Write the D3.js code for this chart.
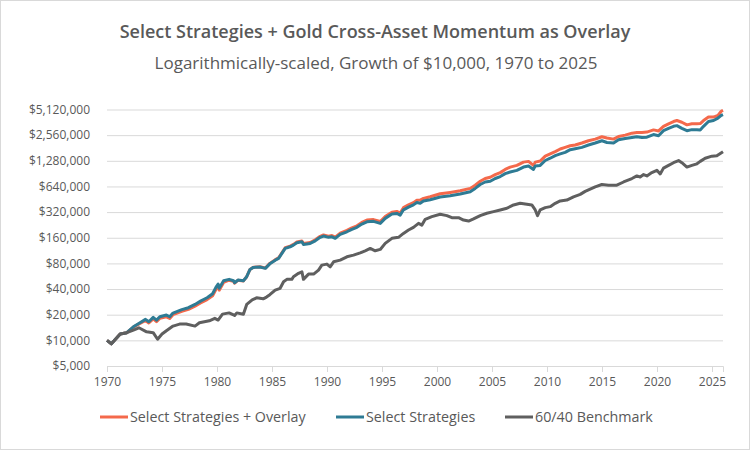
<!DOCTYPE html>
<html>
<head>
<meta charset="utf-8">
<script src="https://cdn.jsdelivr.net/npm/d3@7"></script>
<style>
  body { margin: 0; background: #fff; }
  text { font-family: "Open Sans", sans-serif; fill: #595959; }
</style>
</head>
<body>
<div id="chart"></div>
<script>
// values, growth of $10,000
var overlayYears = [1970.0, 1970.4, 1971.2, 1971.8, 1972.4, 1973.0, 1973.5, 1973.8, 1974.2, 1974.5, 1974.8, 1975.4, 1975.7, 1976.0, 1976.8, 1977.4, 1978.0, 1978.5, 1979.1, 1979.6, 1979.9, 1980.1, 1980.2, 1980.6, 1981.1, 1981.5, 1981.6, 1981.9, 1982.4, 1982.7, 1983.0, 1983.3, 1983.9, 1984.4, 1984.8, 1985.3, 1985.6, 1985.9, 1986.2, 1986.65, 1986.95, 1987.26, 1987.72, 1987.86, 1988.47, 1988.93, 1989.38, 1989.68, 1990.14, 1990.45, 1990.75, 1991.2, 1991.81, 1992.26, 1992.72, 1993.17, 1993.63, 1994.23, 1994.84, 1995.29, 1995.9, 1996.35, 1996.65, 1996.95, 1997.41, 1997.86, 1998.17, 1998.47, 1998.77, 1999.38, 2000.29, 2001.2, 2002.11, 2003.02, 2003.47, 2003.93, 2004.38, 2004.84, 2005.29, 2005.75, 2006.2, 2006.65, 2007.26, 2007.86, 2008.32, 2008.77, 2008.93, 2009.38, 2009.84, 2010.29, 2010.75, 2011.2, 2011.65, 2012.11, 2012.56, 2013.17, 2013.77, 2014.38, 2014.99, 2015.45, 2016.05, 2016.5, 2017.11, 2017.72, 2018.17, 2018.63, 2019.08, 2019.68, 2020.14, 2020.59, 2021.05, 2021.5, 2021.81, 2022.26, 2022.72, 2023.17, 2023.63, 2023.93, 2024.23, 2024.68, 2025.14, 2025.54, 2025.84, 2026.0];
var overlayValues = [10000, 9100, 11850, 12300, 14300, 15800, 17100, 16000, 17900, 16600, 18100, 18900, 18100, 20000, 21900, 23100, 25200, 27500, 30100, 33300, 39500, 43000, 38800, 47800, 50800, 49200, 46900, 50600, 49800, 55800, 68000, 72000, 73000, 70600, 80000, 88500, 92800, 106500, 122000, 127600, 133600, 142500, 146500, 136700, 140800, 151300, 166500, 172700, 167000, 169600, 163000, 181500, 195300, 209200, 221000, 241800, 257800, 261300, 248000, 284000, 319500, 326000, 312000, 360500, 388500, 413500, 441000, 443000, 463000, 484000, 525000, 545000, 569000, 607000, 662000, 736000, 793000, 821000, 882000, 930000, 1015000, 1080000, 1130000, 1235000, 1260000, 1130000, 1235000, 1270000, 1450000, 1540000, 1640000, 1760000, 1840000, 1920000, 1960000, 2070000, 2200000, 2300000, 2450000, 2370000, 2300000, 2470000, 2560000, 2700000, 2750000, 2750000, 2780000, 2950000, 2870000, 3250000, 3480000, 3700000, 3800000, 3630000, 3380000, 3480000, 3480000, 3500000, 3800000, 4170000, 4170000, 4370000, 4880000, 5010000];

var strategyYears = [1970.0, 1970.4, 1971.2, 1971.8, 1972.4, 1973.0, 1973.5, 1973.8, 1974.2, 1974.5, 1974.8, 1975.4, 1975.7, 1976.0, 1976.8, 1977.4, 1978.0, 1978.5, 1979.1, 1979.6, 1979.9, 1980.1, 1980.2, 1980.6, 1981.1, 1981.5, 1981.6, 1981.9, 1982.4, 1982.7, 1983.0, 1983.3, 1983.9, 1984.4, 1984.8, 1985.3, 1985.6, 1985.9, 1986.2, 1986.65, 1986.95, 1987.26, 1987.72, 1987.86, 1988.47, 1988.93, 1989.38, 1989.68, 1990.14, 1990.45, 1990.75, 1991.2, 1991.81, 1992.26, 1992.72, 1993.17, 1993.63, 1994.23, 1994.84, 1995.29, 1995.9, 1996.35, 1996.65, 1996.95, 1997.41, 1997.86, 1998.17, 1998.47, 1998.77, 1999.38, 2000.29, 2001.2, 2002.11, 2003.02, 2003.47, 2003.93, 2004.38, 2004.84, 2005.29, 2005.75, 2006.2, 2006.65, 2007.26, 2007.86, 2008.32, 2008.77, 2008.93, 2009.38, 2009.84, 2010.29, 2010.75, 2011.2, 2011.65, 2012.11, 2012.56, 2013.17, 2013.77, 2014.38, 2014.99, 2015.45, 2016.05, 2016.5, 2017.11, 2017.72, 2018.17, 2018.63, 2019.08, 2019.68, 2020.14, 2020.59, 2021.05, 2021.5, 2021.81, 2022.26, 2022.72, 2023.17, 2023.63, 2023.93, 2024.23, 2024.68, 2025.14, 2025.54, 2025.84, 2026.0];
var strategyValues = [10000, 9100, 11850, 12300, 14440, 16090, 17630, 16530, 18610, 17300, 18920, 19800, 18920, 20900, 22900, 24170, 26400, 28880, 31600, 35200, 41900, 45800, 40800, 50000, 52000, 50000, 47400, 51000, 50000, 55800, 68000, 71800, 72500, 70000, 79000, 87300, 91500, 104800, 119900, 125300, 131100, 139600, 143300, 133600, 137300, 147300, 161800, 167500, 161800, 164000, 157400, 175000, 188000, 201000, 212000, 231600, 246400, 249200, 236000, 270000, 303300, 309000, 295000, 340500, 366000, 389000, 414000, 406000, 433000, 447000, 481000, 499000, 522000, 555000, 607000, 675000, 722000, 736000, 793000, 836000, 905000, 945000, 989000, 1080000, 1110000, 1015000, 1110000, 1130000, 1290000, 1372000, 1470000, 1540000, 1610000, 1730000, 1775000, 1840000, 1960000, 2070000, 2200000, 2100000, 2070000, 2260000, 2340000, 2400000, 2450000, 2400000, 2420000, 2600000, 2520000, 2890000, 3080000, 3250000, 3310000, 3080000, 2890000, 2970000, 2970000, 2950000, 3250000, 3700000, 3800000, 4050000, 4370000, 4460000];

var benchmarkYears = [1970.0, 1970.4, 1971.2, 1971.8, 1972.4, 1972.9, 1973.6, 1974.2, 1974.6, 1975.0, 1975.4, 1976.0, 1976.6, 1977.2, 1978.0, 1978.4, 1979.3, 1979.8, 1980.1, 1980.5, 1981.1, 1981.6, 1981.8, 1982.4, 1982.7, 1983.2, 1983.6, 1984.2, 1984.5, 1984.8, 1985.29, 1985.74, 1986.05, 1986.35, 1986.8, 1986.95, 1987.41, 1987.72, 1987.86, 1988.32, 1988.78, 1989.23, 1989.53, 1989.99, 1990.29, 1990.6, 1991.2, 1991.81, 1992.41, 1993.02, 1993.47, 1993.93, 1994.38, 1994.84, 1995.29, 1995.9, 1996.5, 1996.95, 1997.41, 1997.86, 1998.32, 1998.62, 1998.93, 1999.53, 2000.29, 2000.9, 2001.35, 2001.96, 2002.41, 2002.87, 2003.32, 2003.93, 2004.53, 2005.14, 2005.75, 2006.35, 2006.96, 2007.56, 2008.17, 2008.62, 2008.93, 2009.14, 2009.38, 2009.84, 2010.29, 2010.75, 2011.2, 2011.8, 2012.41, 2013.02, 2013.47, 2014.38, 2014.99, 2015.59, 2016.35, 2016.96, 2017.72, 2018.17, 2018.47, 2018.78, 2019.08, 2019.53, 2019.99, 2020.29, 2020.59, 2021.05, 2021.5, 2021.96, 2022.26, 2022.72, 2023.17, 2023.63, 2023.93, 2024.38, 2024.99, 2025.44, 2026.0];
var benchmarkValues = [10000, 9100, 11850, 12300, 13200, 14050, 12600, 12300, 10300, 11850, 12960, 14700, 15530, 15530, 14700, 16090, 16980, 18110, 17300, 20300, 21000, 19600, 21000, 20200, 26400, 29900, 31600, 30700, 32200, 34300, 38900, 40800, 48700, 52000, 52000, 55800, 61100, 63800, 52000, 59900, 59900, 66800, 76400, 78500, 73000, 83500, 87300, 95600, 100000, 106500, 112400, 119900, 112400, 116700, 137300, 157400, 161800, 180000, 197000, 212000, 236000, 225000, 263000, 283000, 302000, 291000, 275000, 275000, 258000, 251000, 266000, 291000, 310000, 324000, 339000, 355000, 388000, 406000, 395000, 388000, 339000, 291000, 339000, 361000, 371000, 406000, 433000, 443000, 484000, 517000, 560000, 633000, 675000, 662000, 662000, 722000, 793000, 851000, 827000, 882000, 851000, 930000, 989000, 896000, 1050000, 1130000, 1215000, 1290000, 1215000, 1080000, 1130000, 1180000, 1260000, 1372000, 1450000, 1470000, 1640000];

var yTicks = [5000, 10000, 20000, 40000, 80000, 160000, 320000, 640000, 1280000, 2560000, 5120000];
var xTicks = [1970, 1975, 1980, 1985, 1990, 1995, 2000, 2005, 2010, 2015, 2020, 2025];

var seriesNames = ['Select Strategies + Overlay', 'Select Strategies', '60/40 Benchmark'];
var seriesColors = ['#f4694b', '#2e7b94', '#5f5f5f'];

var W = 750, H = 450;
var margin = {top: 109.5, right: 27, bottom: 84, left: 107};

var svg = d3.select('#chart')
  .append('svg')
    .attr('width', W)
    .attr('height', H);

// outer frame
svg.append('rect')
  .attr('x', 0.5).attr('y', 0.5)
  .attr('width', W - 1).attr('height', H - 1)
  .attr('fill', '#fff')
  .attr('stroke', '#d9d9d9');

var x = d3.scaleLinear()
  .domain([1970, 2026])
  .range([margin.left, W - margin.right]);

var y = d3.scaleLog()
  .base(2)
  .domain([5000, 5120000])
  .range([H - margin.bottom, margin.top]);

// titles
svg.append('text')
  .attr('x', 375).attr('y', 38)
  .attr('text-anchor', 'middle')
  .style('font-size', '18px')
  .style('font-weight', 600)
  .text('Select Strategies + Gold Cross-Asset Momentum as Overlay');

svg.append('text')
  .attr('x', 376).attr('y', 69)
  .attr('text-anchor', 'middle')
  .style('font-size', '17px')
  .text('Logarithmically-scaled, Growth of $10,000, 1970 to 2025');

// gridlines + y labels
var yAxis = svg.append('g')
  .attr('transform', 'translate(' + margin.left + ',0)')
  .call(d3.axisLeft(y)
    .tickValues(yTicks)
    .tickSize(-(W - margin.left - margin.right))
    .tickPadding(17)
    .tickFormat(d => '$' + d3.format(',')(d)));
yAxis.select('.domain').remove();
yAxis.selectAll('.tick line').attr('stroke', '#d9d9d9');
yAxis.selectAll('.tick text')
  .style('font-size', '12px')
  .style('font-family', '"Open Sans", sans-serif')
  .attr('fill', '#595959');

// x axis
var xAxis = svg.append('g')
  .attr('transform', 'translate(0,' + (H - margin.bottom) + ')')
  .call(d3.axisBottom(x)
    .tickValues(xTicks)
    .tickSize(6)
    .tickSizeOuter(6)
    .tickPadding(5)
    .tickFormat(d3.format('d')));
xAxis.select('.domain').attr('stroke', '#d9d9d9');
xAxis.selectAll('.tick line').attr('stroke', '#d9d9d9');
xAxis.selectAll('.tick text')
  .style('font-size', '12px')
  .style('font-family', '"Open Sans", sans-serif')
  .attr('fill', '#595959');

// lines
var line = d3.line()
  .x(d => x(d[0]))
  .y(d => y(d[1]));

var allSeries = [
  d3.zip(overlayYears, overlayValues),
  d3.zip(strategyYears, strategyValues),
  d3.zip(benchmarkYears, benchmarkValues)
];

svg.append('g').selectAll('path')
  .data(allSeries)
  .enter()
  .append('path')
    .attr('d', line)
    .attr('fill', 'none')
    .attr('stroke', (d, i) => seriesColors[i])
    .attr('stroke-width', 3)
    .attr('stroke-linejoin', 'round');

// legend
var legendX = [100, 336, 505];
var legend = svg.append('g').selectAll('g')
  .data(seriesNames)
  .enter()
  .append('g')
    .attr('transform', (d, i) => 'translate(' + legendX[i] + ',417)');

legend.append('line')
  .attr('x1', 0).attr('x2', 28)
  .attr('stroke', (d, i) => seriesColors[i])
  .attr('stroke-width', 3);

legend.append('text')
  .attr('x', 30)
  .attr('dy', '0.35em')
  .style('font-size', '14.3px')
  .text(d => d);
</script>
</body>
</html>
